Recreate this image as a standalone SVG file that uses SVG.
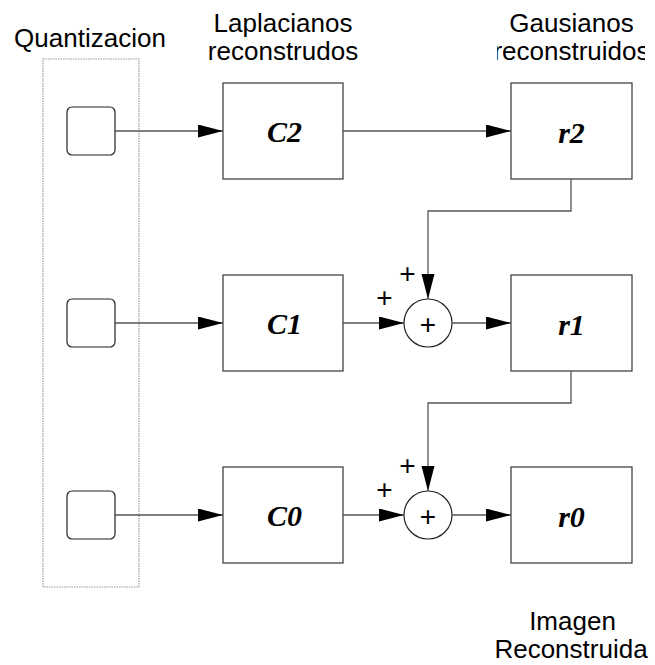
<svg xmlns="http://www.w3.org/2000/svg" width="655" height="665" viewBox="0 0 655 665">
<defs>
<marker id="ah" markerUnits="userSpaceOnUse" markerWidth="26" markerHeight="14" refX="25" refY="6.5" orient="auto">
<path d="M0,0 L25,6.5 L0,13 Z" fill="#000"/>
</marker>
<clipPath id="clipG"><rect x="497" y="0" width="148" height="80"/></clipPath>
</defs>
<style>
.t{font-family:"Liberation Sans",Arial,sans-serif;font-size:26px;fill:#000;text-anchor:middle}
.lbl{font-family:"Liberation Serif","Times New Roman",serif;font-size:30px;font-weight:bold;font-style:italic;fill:#000;text-anchor:middle}
.pl{font-family:"Liberation Sans",Arial,sans-serif;font-size:28px;fill:#000;text-anchor:middle}
.box{fill:#fff;stroke:#444;stroke-width:1.3}
.q{fill:#fff;stroke:#222;stroke-width:1.2}
.sum{fill:#fff;stroke:#222;stroke-width:1.2}
.c{fill:none;stroke:#555;stroke-width:1.3}
</style>
<rect width="655" height="665" fill="#fff"/>
<text class="t" x="90" y="46.5">Quantizacion</text>
<text class="t" x="283" y="32">Laplacianos</text>
<text class="t" x="283" y="60">reconstrudos</text>
<g clip-path="url(#clipG)">
<text class="t" x="571.5" y="32">Gausianos</text>
<text class="t" x="571.5" y="60">reconstruidos</text>
</g>
<text class="t" x="572.5" y="630">Imagen</text>
<text class="t" x="571" y="658">Reconstruida</text>
<g id="quant"><rect x="43" y="59" width="96" height="528" fill="none" stroke="#999" stroke-width="1.2" stroke-dasharray="1.5,1"/></g>
<g id="q2"><rect class="q" x="67" y="107" width="48" height="48" rx="5"/></g>
<g id="q1"><rect class="q" x="67" y="299" width="48" height="48" rx="5"/></g>
<g id="q0"><rect class="q" x="67" y="491" width="48" height="48" rx="5"/></g>
<g id="C2"><rect class="box" x="223" y="83" width="120" height="96"/><text class="lbl" x="284.5" y="142">C2</text></g>
<g id="C1"><rect class="box" x="223" y="275" width="120" height="96"/><text class="lbl" x="284.5" y="334">C1</text></g>
<g id="C0"><rect class="box" x="223" y="467" width="120" height="96"/><text class="lbl" x="284.5" y="526">C0</text></g>
<g id="r2"><rect class="box" x="511" y="83" width="121" height="96"/><text class="lbl" x="571.5" y="142.5">r2</text></g>
<g id="r1"><rect class="box" x="511" y="275" width="121" height="96"/><text class="lbl" x="571.5" y="334.5">r1</text></g>
<g id="r0"><rect class="box" x="511" y="467" width="121" height="96"/><text class="lbl" x="571.5" y="526.5">r0</text></g>
<g id="sum1"><circle class="sum" cx="428" cy="323" r="24"/><text class="pl" x="428" y="334">+</text></g>
<g id="sum0"><circle class="sum" cx="428" cy="515" r="24"/><text class="pl" x="428" y="526">+</text></g>
<g id="signs">
<text class="pl" x="407.5" y="283">+</text><text class="pl" x="384.5" y="306.5">+</text>
<text class="pl" x="407.5" y="475">+</text><text class="pl" x="384.5" y="499">+</text>
</g>
<g id="connectors">
<path class="c" d="M115,131 H223" marker-end="url(#ah)"/>
<path class="c" d="M115,323 H223" marker-end="url(#ah)"/>
<path class="c" d="M115,515 H223" marker-end="url(#ah)"/>
<path class="c" d="M343,131 H511" marker-end="url(#ah)"/>
<path class="c" d="M343,323 H404" marker-end="url(#ah)"/>
<path class="c" d="M343,515 H404" marker-end="url(#ah)"/>
<path class="c" d="M452,323 H511" marker-end="url(#ah)"/>
<path class="c" d="M452,515 H511" marker-end="url(#ah)"/>
<path class="c" d="M571,179 V211 H428 V299" marker-end="url(#ah)"/>
<path class="c" d="M571,371 V403 H428 V491" marker-end="url(#ah)"/>
</g>
</svg>
